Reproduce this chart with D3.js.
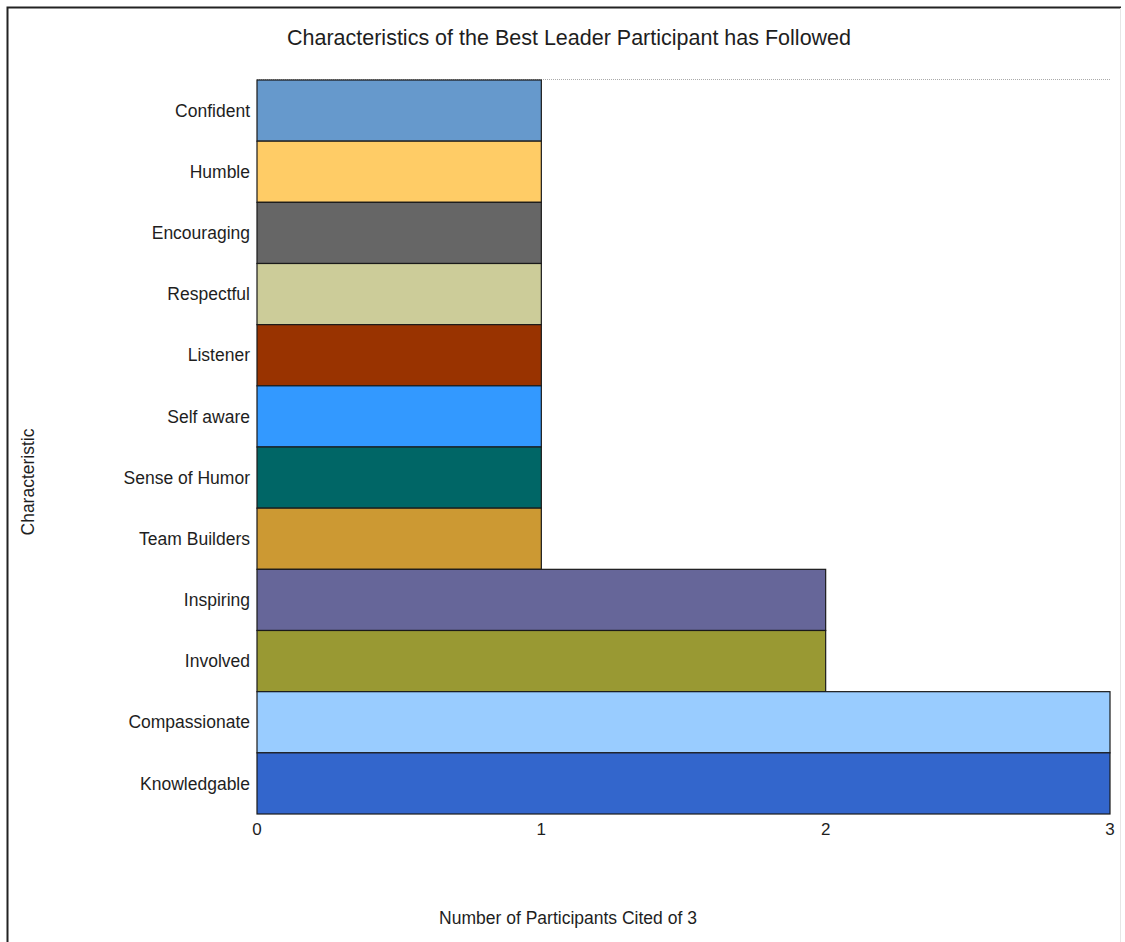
<!DOCTYPE html>
<html>
<head>
<meta charset="utf-8">
<script src="https://cdn.jsdelivr.net/npm/d3@7"></script>
<style>
  body { margin: 0; background: #fff; }
  text { font-family: "Liberation Sans", Arial, sans-serif; fill: #1e1e1e; }
</style>
</head>
<body>
<div id="chart"></div>
<script>
// data
var categories = ["Confident", "Humble", "Encouraging", "Respectful", "Listener", "Self aware",
                  "Sense of Humor", "Team Builders", "Inspiring", "Involved", "Compassionate", "Knowledgable"];
var counts = [1, 1, 1, 1, 1, 1, 1, 1, 2, 2, 3, 3];
var barColors = ["#6699cc", "#ffcc66", "#666666", "#cccc99", "#993300", "#3399ff",
                 "#006666", "#cc9933", "#666699", "#999933", "#99ccff", "#3366cc"];
var xTicks = [0, 1, 2, 3];

var width = 1125,
    height = 942;

var margin = {top: 80, left: 257, right: 15, bottom: 128};

var svg = d3.select("#chart")
    .append("svg")
    .attr("width", width)
    .attr("height", height);

// frame: dark top and left edges, faint right edge
svg.append("path")
    .attr("d", "M7.5," + height + "V7.5H" + (width - 4))
    .style("fill", "none")
    .style("stroke", "#222")
    .style("stroke-width", 2);
svg.append("line")
    .attr("x1", width - 4.5).attr("x2", width - 4.5)
    .attr("y1", 8).attr("y2", height)
    .style("stroke", "#e6e6e6");

var x = d3.scaleLinear()
    .domain([0, 3])
    .range([margin.left, width - margin.right]);

var y = d3.scaleBand()
    .domain(categories)
    .range([margin.top, height - margin.bottom])
    .padding(0);

// dotted top line
svg.append("line")
    .attr("x1", x(0)).attr("x2", x(3))
    .attr("y1", margin.top - 0.5).attr("y2", margin.top - 0.5)
    .style("stroke", "#aaa")
    .style("stroke-dasharray", "1,1");

svg.append("g").selectAll("rect")
    .data(categories)
    .enter().append("rect")
    .attr("x", x(0))
    .attr("y", function(d) { return y(d); })
    .attr("width", function(d, i) { return x(counts[i]) - x(0); })
    .attr("height", y.bandwidth())
    .style("fill", function(d, i) { return barColors[i]; })
    .style("stroke", "#1a1a1a")
    .style("stroke-width", 1.2);

// y labels
svg.append("g").selectAll("text")
    .data(categories)
    .enter().append("text")
    .attr("x", margin.left - 7)
    .attr("y", function(d) { return y(d) + y.bandwidth() / 2; })
    .attr("dy", "0.35em")
    .style("text-anchor", "end")
    .style("font-size", "17.5px")
    .text(function(d) { return d; });

// x ticks
svg.append("g").selectAll("text")
    .data(xTicks)
    .enter().append("text")
    .attr("x", function(d) { return x(d); })
    .attr("y", height - margin.bottom + 21)
    .style("text-anchor", "middle")
    .style("font-size", "17px")
    .text(function(d) { return d; });

svg.append("text")
    .attr("x", 569).attr("y", 45)
    .style("text-anchor", "middle")
    .style("font-size", "21.5px")
    .text("Characteristics of the Best Leader Participant has Followed");

svg.append("text")
    .attr("x", 568).attr("y", 924)
    .style("text-anchor", "middle")
    .style("font-size", "17.5px")
    .text("Number of Participants Cited of 3");

svg.append("text")
    .attr("transform", "translate(34,482) rotate(-90)")
    .style("text-anchor", "middle")
    .style("font-size", "17.5px")
    .text("Characteristic");
</script>
</body>
</html>
